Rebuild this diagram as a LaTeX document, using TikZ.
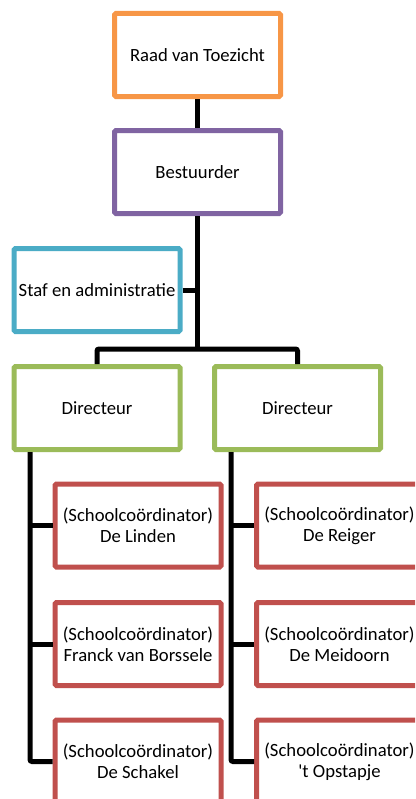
\documentclass[tikz,border=0pt]{standalone}
\usepackage{fontspec}
\setmainfont{Carlito}
\newfontfamily\plaincarlito{Carlito}
\usepackage{xcolor}
\usetikzlibrary{positioning,calc}

\definecolor{raadorange}{HTML}{F79646}
\definecolor{bestpurple}{HTML}{8064A2}
\definecolor{stafblue}{HTML}{4BACC6}
\definecolor{dirgreen}{HTML}{9BBB59}
\definecolor{schoolred}{HTML}{C0504D}

\begin{document}
\begin{tikzpicture}[x=0.75pt,y=-0.75pt,
    orgbox/.style={draw, line width=3.75pt, rounded corners=1pt, fill=white,
        minimum width=124.5pt, minimum height=62.25pt, inner sep=0pt,
        align=center, font=\fontsize{14}{16}\selectfont},
    link/.style={line width=3.75pt, rounded corners=1.5pt}]
    \useasboundingbox (0,0) rectangle (415,799);
    \clip (0,0) rectangle (415,799);

    % Top of the tree
    \node[orgbox, draw=raadorange] (raad) at (197.5,55) {Raad van Toezicht};
    \node[orgbox, draw=bestpurple] (best) at (197.5,172) {Bestuurder};
    \node[orgbox, draw=stafblue] (staf) at (97,290) {Staf en administratie};

    % Directors
    \node[orgbox, draw=dirgreen] (dirA) at (97,408) {Directeur};
    \node[orgbox, draw=dirgreen] (dirB) at (297.5,408) {Directeur};

    % Schools
    \node[orgbox, draw=schoolred] (schA1) at (138,525.5) {(Schoolcoördinator)\\De Linden};
    \node[orgbox, draw=schoolred] (schA2) at (138,644) {(Schoolcoördinator)\\Franck van Borssele};
    \node[orgbox, draw=schoolred] (schA3) at (138,761.5) {(Schoolcoördinator)\\De Schakel};
    \node[orgbox, draw=schoolred] (schB1) at (339.5,525.5) {(Schoolcoördinator)\\De Reiger};
    \node[orgbox, draw=schoolred] (schB2) at (339.5,644) {(Schoolcoördinator)\\De Meidoorn};
    \node[orgbox, draw=schoolred] (schB3) at (339.5,761.5) {(Schoolcoördinator)\\{\plaincarlito 't Opstapje}};

    % Connectors
    \coordinate (bar) at (197.5,349);
    \coordinate (trunkA) at (30,452);
    \coordinate (trunkB) at (231,452);

    \draw[link] (raad.south) -- (best.north);
    \draw[link] (best.south) -- (bar);
    \draw[link] (staf.east) -- (staf.east -| best.south);
    \draw[link] (dirA.north) |- (bar) -| (dirB.north);

    \draw[link] (trunkA) |- (schA3.west);
    \draw[link] (trunkA |- schA1.west) -- (schA1.west);
    \draw[link] (trunkA |- schA2.west) -- (schA2.west);
    \draw[link] (trunkB) |- (schB3.west);
    \draw[link] (trunkB |- schB1.west) -- (schB1.west);
    \draw[link] (trunkB |- schB2.west) -- (schB2.west);
\end{tikzpicture}
\end{document}
